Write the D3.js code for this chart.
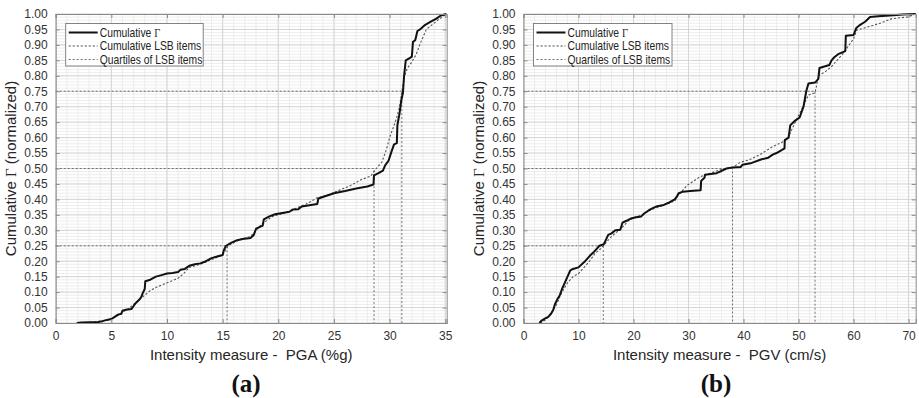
<!DOCTYPE html>
<html>
<head>
<meta charset="utf-8">
<script src="https://cdn.jsdelivr.net/npm/d3@7/dist/d3.min.js"></script>
<style>
  body { margin: 0; background: #fff; }
  svg { display: block; }
  text { font-family: "Liberation Sans", Arial, Helvetica, sans-serif; }
</style>
</head>
<body>
<svg id="fig" width="919" height="398"></svg>
<script>
// ---- data -------------------------------------------------------------
// cumulative Γ vs PGA (%g): [intensity, cumulative fraction]
const pgaGamma = [
  [1.9,0],[2.3,0.002],[3.8,0.003],[4.2,0.006],[4.6,0.01],[5.0,0.013],[5.3,0.02],[5.6,0.027],
  [5.9,0.03],[6.0,0.04],[6.3,0.043],[6.8,0.045],[7.0,0.055],[7.2,0.065],[7.5,0.075],[7.7,0.085],
  [7.8,0.095],[8.0,0.11],[8.05,0.135],[8.5,0.14],[9.0,0.15],[9.5,0.155],[10.0,0.16],[10.5,0.162],
  [11.0,0.165],[11.2,0.172],[11.6,0.175],[12.0,0.185],[12.5,0.19],[13.0,0.193],[13.5,0.2],[14.0,0.21],
  [14.5,0.215],[15.0,0.22],[15.1,0.235],[15.3,0.25],[15.8,0.26],[16.3,0.268],[16.8,0.272],[17.5,0.275],
  [17.8,0.285],[18.0,0.305],[18.3,0.31],[18.6,0.315],[18.7,0.335],[19.2,0.345],[19.7,0.352],[20.5,0.357],
  [21.0,0.36],[21.3,0.367],[21.8,0.368],[22.1,0.377],[23.5,0.385],[23.6,0.403],[24.2,0.41],[25.0,0.42],
  [26.0,0.427],[27.0,0.435],[28.0,0.442],[28.55,0.448],[28.6,0.478],[29.0,0.485],[29.4,0.493],[29.6,0.51],
  [29.9,0.525],[30.2,0.558],[30.4,0.578],[30.65,0.582],[30.7,0.64],[30.9,0.68],[31.05,0.72],[31.2,0.745],
  [31.3,0.8],[31.45,0.85],[31.8,0.857],[32.0,0.862],[32.1,0.91],[32.3,0.915],[32.5,0.945],[32.8,0.952],
  [33.2,0.965],[33.7,0.975],[34.2,0.985],[34.6,0.995],[35.1,1.0]
];
// cumulative LSB items vs PGA (%g)
const pgaLsb = [
  [2.0,0],[3.5,0.003],[4.5,0.008],[5.0,0.013],[5.5,0.022],[6.0,0.035],[6.5,0.045],[7.0,0.06],
  [7.5,0.075],[8.0,0.09],[8.5,0.105],[9.0,0.115],[10.0,0.13],[11.0,0.145],[11.5,0.16],[12.0,0.18],
  [13.0,0.19],[14.0,0.205],[15.0,0.22],[15.5,0.25],[16.5,0.27],[17.5,0.28],[18.5,0.32],[19.5,0.345],
  [20.5,0.355],[21.5,0.37],[22.5,0.385],[23.5,0.405],[24.5,0.415],[25.5,0.43],[26.5,0.445],[27.5,0.465],
  [28.3,0.475],[28.8,0.5],[29.3,0.52],[29.7,0.56],[30.0,0.6],[30.3,0.63],[30.6,0.66],[30.9,0.7],
  [31.1,0.75],[31.35,0.8],[31.6,0.825],[32.0,0.845],[32.4,0.87],[32.7,0.9],[33.0,0.925],[33.3,0.95],
  [33.8,0.965],[34.4,0.982],[35.1,1.0]
];
// cumulative Γ vs PGV (cm/s)
const pgvGamma = [
  [2.9,0],[3.3,0.008],[3.8,0.013],[4.5,0.02],[5.0,0.03],[5.4,0.042],[5.7,0.06],[6.1,0.075],
  [6.6,0.09],[7.0,0.11],[7.5,0.13],[8.0,0.15],[8.5,0.17],[9.0,0.175],[10.0,0.18],[10.6,0.19],
  [11.2,0.2],[11.7,0.21],[12.2,0.22],[12.8,0.23],[13.3,0.24],[13.8,0.25],[14.6,0.255],[15.0,0.27],
  [15.4,0.285],[16.0,0.29],[16.7,0.3],[17.6,0.302],[18.0,0.325],[18.6,0.33],[19.5,0.338],[20.5,0.342],
  [21.4,0.345],[22.0,0.355],[22.8,0.365],[23.5,0.372],[24.3,0.378],[25.5,0.382],[26.5,0.39],[27.5,0.4],
  [27.9,0.41],[28.2,0.42],[29.0,0.425],[30.3,0.427],[32.2,0.43],[32.3,0.46],[32.9,0.47],[33.0,0.48],
  [35.1,0.485],[36.0,0.492],[36.9,0.5],[38.0,0.503],[39.5,0.505],[39.8,0.512],[41.5,0.518],[43.3,0.53],
  [44.5,0.535],[45.3,0.545],[46.0,0.55],[47.0,0.56],[47.45,0.565],[47.5,0.592],[48.2,0.6],[48.5,0.64],
  [49.4,0.655],[50.2,0.665],[50.9,0.7],[51.4,0.75],[51.8,0.775],[53.0,0.778],[53.6,0.79],[53.8,0.825],
  [55.6,0.835],[56.0,0.85],[56.5,0.86],[57.2,0.87],[58.5,0.88],[58.6,0.93],[60.0,0.932],[60.5,0.955],
  [61.2,0.965],[62.1,0.975],[63.0,0.99],[64.5,0.993],[66.6,0.995],[69.0,0.998],[71.3,1.0]
];
// cumulative LSB items vs PGV (cm/s)
const pgvLsb = [
  [3.0,0],[4.0,0.01],[5.0,0.03],[6.0,0.06],[7.0,0.1],[8.0,0.13],[9.0,0.15],[10.0,0.16],
  [11.0,0.18],[12.0,0.2],[13.0,0.225],[14.0,0.24],[15.0,0.26],[16.0,0.28],[17.0,0.295],[18.0,0.31],
  [19.0,0.33],[20.0,0.34],[21.5,0.35],[23.0,0.365],[24.5,0.375],[26.0,0.385],[27.5,0.395],[28.0,0.41],
  [29.7,0.445],[32.1,0.473],[34.0,0.485],[36.0,0.497],[38.0,0.503],[39.4,0.52],[41.0,0.528],[43.0,0.545],
  [45.4,0.572],[47.0,0.585],[48.1,0.6],[49.4,0.65],[50.8,0.7],[51.8,0.738],[53.0,0.745],[53.3,0.77],
  [53.6,0.8],[55.0,0.815],[56.0,0.83],[57.0,0.85],[58.0,0.87],[59.0,0.895],[60.0,0.92],[60.6,0.948],
  [62.0,0.955],[64.8,0.97],[67.0,0.985],[69.7,0.99],[71.3,1.0]
];
// quartiles of the LSB items
const quartileLevels = [0.25, 0.5, 0.75];
const pgaQuartiles = [15.4, 28.6, 31.1];
const pgvQuartiles = [14.5, 38.0, 53.0];

// axis ticks
const probTicks = d3.range(0, 21).map(i => i * 0.05);
const pgaTicks = [0, 5, 10, 15, 20, 25, 30, 35];
const pgvTicks = [0, 10, 20, 30, 40, 50, 60, 70];

const legendLabels = ["Cumulative ", "Cumulative LSB items", "Quartiles of LSB items"];

// ---- drawing ----------------------------------------------------------
const svg = d3.select("#fig");
const plotTop = 14, plotBottom = 323;

function panel(opt) {
  const x = d3.scaleLinear().domain([0, opt.xMax]).range([opt.left, opt.right]);
  const y = d3.scaleLinear().domain([0, 1]).range([plotBottom, plotTop]);
  const g = svg.append("g");

  // minor grid
  const xMinor = d3.range(0, opt.xMax + 1e-9, opt.minorStep);
  const yMinor = d3.range(0, 101).map(i => i / 100);
  g.append("g").selectAll("line").data(xMinor).join("line")
    .attr("x1", d => x(d)).attr("x2", d => x(d)).attr("y1", plotTop).attr("y2", plotBottom)
    .attr("stroke", "#e8e8e8").attr("stroke-width", 0.8);
  g.append("g").selectAll("line").data(yMinor).join("line")
    .attr("x1", opt.left).attr("x2", opt.right).attr("y1", d => y(d)).attr("y2", d => y(d))
    .attr("stroke", "#e8e8e8").attr("stroke-width", 0.8);
  // major grid
  g.append("g").selectAll("line").data(opt.ticks).join("line")
    .attr("x1", d => x(d)).attr("x2", d => x(d)).attr("y1", plotTop).attr("y2", plotBottom)
    .attr("stroke", "#d2d2d2").attr("stroke-width", 0.9);
  g.append("g").selectAll("line").data(probTicks).join("line")
    .attr("x1", opt.left).attr("x2", opt.right).attr("y1", d => y(d)).attr("y2", d => y(d))
    .attr("stroke", "#d2d2d2").attr("stroke-width", 0.9);

  // quartile guides
  const q = opt.quartiles.map((v, i) => ({ x: v, p: quartileLevels[i] }));
  const qg = g.append("g").attr("stroke", "#707070").attr("stroke-width", 1)
    .attr("stroke-dasharray", "2,2").attr("fill", "none");
  qg.selectAll("path").data(q).join("path")
    .attr("d", d => d3.line()([[x(0), y(d.p)], [x(d.x), y(d.p)], [x(d.x), y(0)]]));

  // curves
  const line = d3.line().x(d => x(d[0])).y(d => y(d[1]));
  g.append("path").datum(opt.lsb).attr("d", line).attr("fill", "none")
    .attr("stroke", "#555").attr("stroke-width", 1.1).attr("stroke-dasharray", "2.2,1.8");
  g.append("path").datum(opt.gamma).attr("d", line).attr("fill", "none")
    .attr("stroke", "#111").attr("stroke-width", 2).attr("stroke-linejoin", "round");

  // axes (ticks pointing inward, box all round)
  const axCol = "#8a8a8a";
  const xb = g.append("g").attr("transform", `translate(0,${plotBottom})`)
    .call(d3.axisBottom(x).tickValues(opt.ticks).tickSize(-4).tickPadding(8).tickFormat(d3.format("d")));
  const xt = g.append("g").attr("transform", `translate(0,${plotTop})`)
    .call(d3.axisTop(x).tickValues(opt.ticks).tickSize(-4).tickFormat(""));
  const yl = g.append("g").attr("transform", `translate(${opt.left},0)`)
    .call(d3.axisLeft(y).tickValues(probTicks).tickSize(-4).tickPadding(8).tickFormat(d3.format(".2f")));
  const yr = g.append("g").attr("transform", `translate(${opt.right},0)`)
    .call(d3.axisRight(y).tickValues(probTicks).tickSize(-4).tickFormat(""));
  [xb, xt, yl, yr].forEach(a => {
    a.select(".domain").attr("stroke", axCol).attr("stroke-width", 1);
    a.selectAll(".tick line").attr("stroke", axCol);
    a.selectAll("text").attr("fill", "#333").style("font-size", "12px")
      .style("font-family", "'Liberation Sans', Arial, sans-serif");
  });

  // axis titles
  const cx = (opt.left + opt.right) / 2;
  g.append("text").attr("x", cx).attr("y", 360).attr("text-anchor", "middle")
    .style("font-size", "15px").style("white-space", "pre").attr("fill", "#262626")
    .text(opt.xLabel);
  const yt = g.append("text")
    .attr("transform", `translate(${opt.left - 40},${(plotTop + plotBottom) / 2}) rotate(-90)`)
    .attr("text-anchor", "middle").style("font-size", "15px").attr("fill", "#262626");
  yt.append("tspan").text("Cumulative ");
  yt.append("tspan").style("font-family", "'Liberation Serif', 'Times New Roman', serif").text("Γ");
  yt.append("tspan").text(" (normalized)");

  // panel letter
  svg.append("text").attr("x", opt.letterX).attr("y", 392).attr("text-anchor", "middle")
    .style("font-family", "'Liberation Serif', 'Times New Roman', serif")
    .style("font-weight", "bold").style("font-size", "25px").attr("fill", "#111")
    .text(opt.letter);

  // legend
  const lx = opt.left + 10, ly = 23.5;
  const lg = g.append("g").attr("transform", `translate(${lx},${ly})`);
  lg.append("rect").attr("width", opt.legendW).attr("height", 42.5)
    .attr("fill", "#fff").attr("stroke", "#777").attr("stroke-width", 0.9);
  const styles = [
    { stroke: "#111", w: 2, dash: null },
    { stroke: "#555", w: 1.1, dash: "2.2,1.8" },
    { stroke: "#707070", w: 1, dash: "2,2" }
  ];
  legendLabels.forEach((lab, i) => {
    const yy = 9 + i * 13.5;
    lg.append("line").attr("x1", 3).attr("x2", 32).attr("y1", yy).attr("y2", yy)
      .attr("stroke", styles[i].stroke).attr("stroke-width", styles[i].w)
      .attr("stroke-dasharray", styles[i].dash);
    // legend lettering is set slightly condensed
    const t = lg.append("text").attr("transform", `translate(34,${yy + 4.2}) scale(0.86,1)`)
      .style("font-size", "12px").attr("fill", "#222");
    t.append("tspan").text(lab);
    if (i === 0) t.append("tspan").style("font-family", "'Liberation Serif', 'Times New Roman', serif").text("Γ");
  });
}

panel({
  left: 55.7, right: 446.7, xMax: 35.13, ticks: pgaTicks, minorStep: 1,
  gamma: pgaGamma, lsb: pgaLsb, quartiles: pgaQuartiles,
  xLabel: "Intensity measure -  PGA (%g)", letter: "(a)", letterX: 246, legendW: 137.5
});
panel({
  left: 523.5, right: 915.7, xMax: 71.3, ticks: pgvTicks, minorStep: 2,
  gamma: pgvGamma, lsb: pgvLsb, quartiles: pgvQuartiles,
  xLabel: "Intensity measure -  PGV (cm/s)", letter: "(b)", letterX: 716, legendW: 138.5
});
</script>
</body>
</html>
